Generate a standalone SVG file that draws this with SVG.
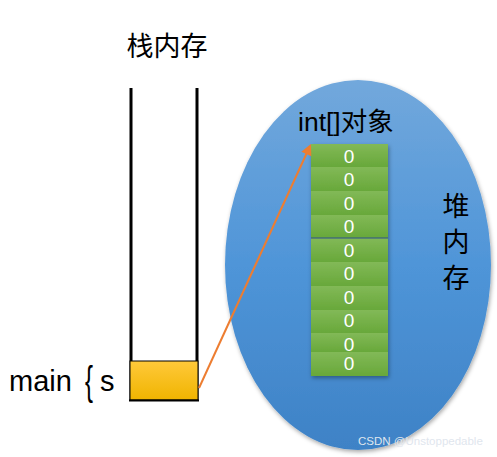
<svg xmlns="http://www.w3.org/2000/svg" width="497" height="457" viewBox="0 0 497 457">
<style>
.cjk{font-family:"Liberation Sans","Noto Sans CJK SC",sans-serif;fill:#000}
.z{font-family:"Liberation Sans",sans-serif;font-size:19px;fill:#fff;text-anchor:middle}
.cell{fill:url(#gg)}
.wall{stroke:#000;stroke-width:3}
</style>
<defs>
<linearGradient id="bg" x1="0" y1="0" x2="0" y2="1">
<stop offset="0" stop-color="#72a8dc"/>
<stop offset="0.5" stop-color="#4f95d8"/>
<stop offset="1" stop-color="#3e82c6"/>
</linearGradient>
<linearGradient id="gg" x1="0" y1="0" x2="0" y2="1">
<stop offset="0" stop-color="#82b957"/>
<stop offset="1" stop-color="#68a83a"/>
</linearGradient>
<linearGradient id="yg" x1="0" y1="0" x2="0" y2="1">
<stop offset="0" stop-color="#ffc93a"/>
<stop offset="1" stop-color="#f0b400"/>
</linearGradient>
<filter id="sh" x="-10%" y="-10%" width="120%" height="120%">
<feDropShadow dx="1" dy="2" stdDeviation="2" flood-color="#000" flood-opacity="0.35"/>
</filter>
<marker id="ah" viewBox="0 0 10 10" refX="8" refY="5" markerWidth="13" markerHeight="11" orient="auto" markerUnits="userSpaceOnUse">
<path d="M0,0 L10,5 L0,10 z" fill="#ed7d31"/>
</marker>
</defs>
<g id="heap">
<ellipse cx="358" cy="265" rx="133" ry="185" fill="url(#bg)" filter="url(#sh)"/>
<text class="cjk" x="456" y="216" font-size="27" text-anchor="middle">堆</text>
<text class="cjk" x="456" y="252" font-size="27" text-anchor="middle">内</text>
<text class="cjk" x="456" y="288" font-size="27" text-anchor="middle">存</text>
</g>
<g id="stack">
<text class="cjk" x="167" y="56" font-size="27" text-anchor="middle">栈内存</text>
<line class="wall" x1="131" y1="88" x2="131" y2="400"/>
<line class="wall" x1="197" y1="88" x2="197" y2="400"/>
<rect x="130" y="361" width="68" height="39" fill="url(#yg)" stroke="#000" stroke-width="1"/>
<line x1="129" y1="400.5" x2="199" y2="400.5" stroke="#000" stroke-width="2"/>
</g>
<g id="main-label">
<text class="cjk" x="9" y="391" font-size="29">main</text>
<text x="85" y="395" font-family="Liberation Sans,sans-serif" font-size="40" font-weight="100" transform="translate(85 395) scale(0.6 1) translate(-85 -395)">{</text>
<text class="cjk" x="100" y="391" font-size="29">s</text>
</g>
<g id="array">
<text class="cjk" x="298" y="131" font-size="26.5">int[]对象</text>
<g filter="url(#sh)">
<rect class="cell" x="311" y="144" width="77" height="23"/>
<rect class="cell" x="311" y="167" width="77" height="24"/>
<rect class="cell" x="311" y="191" width="77" height="24"/>
<rect class="cell" x="311" y="215" width="77" height="23"/>
<rect class="cell" x="311" y="238" width="77" height="24"/>
<rect class="cell" x="311" y="262" width="77" height="24"/>
<rect class="cell" x="311" y="286" width="77" height="24"/>
<rect class="cell" x="311" y="310" width="77" height="23"/>
<rect class="cell" x="311" y="333" width="77" height="19"/>
<rect class="cell" x="311" y="352" width="77" height="24"/>
</g>
<line x1="311" y1="238" x2="388" y2="238" stroke="#2f4f8f" stroke-width="1"/>
<text class="z" x="349" y="163">0</text>
<text class="z" x="349" y="186">0</text>
<text class="z" x="349" y="210">0</text>
<text class="z" x="349" y="233">0</text>
<text class="z" x="349" y="257">0</text>
<text class="z" x="349" y="280">0</text>
<text class="z" x="349" y="304">0</text>
<text class="z" x="349" y="327">0</text>
<text class="z" x="349" y="351">0</text>
<text class="z" x="349" y="370">0</text>
</g>
<g id="connectors">
<line x1="199" y1="388" x2="310" y2="146" stroke="#ed7d31" stroke-width="2" marker-end="url(#ah)"/>
</g>
<text x="358" y="445" font-family="Liberation Sans,sans-serif" font-size="11.5" fill="#dfe6ee">CSDN @Unstoppedable</text>
</svg>
